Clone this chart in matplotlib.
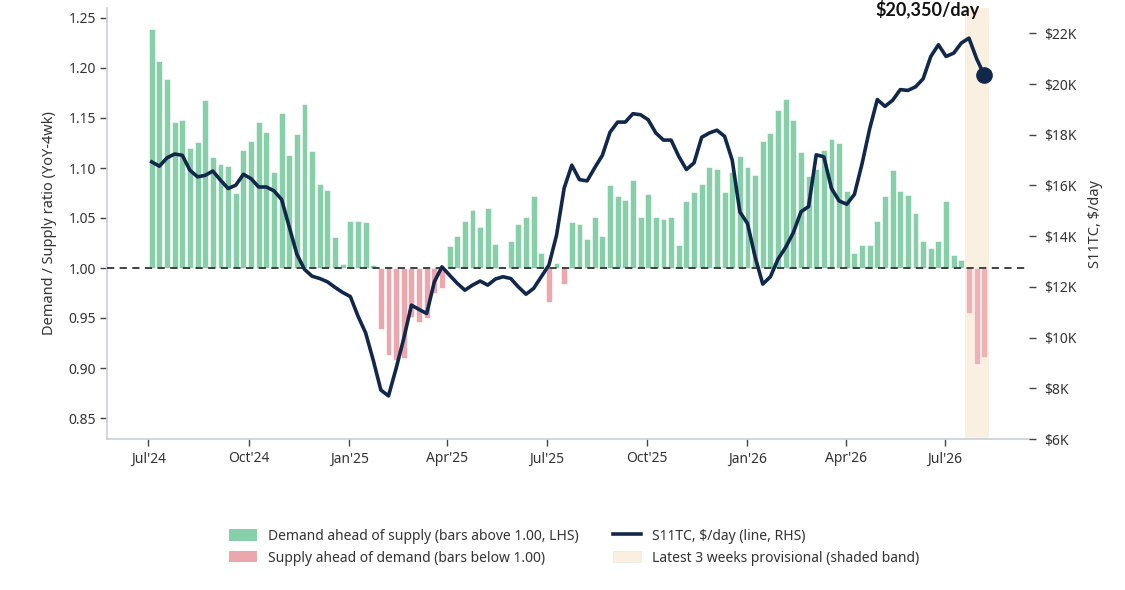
import matplotlib
matplotlib.use("Agg")
import matplotlib.pyplot as plt
import matplotlib.ticker as mticker
from matplotlib.patches import Patch
from matplotlib.lines import Line2D
import numpy as np
import pandas as pd

plt.rcParams['font.family'] = ['Noto Sans', 'DejaVu Sans']

# ---------------- data ----------------
start_date = "2024-07-04"
n_weeks = 110
ratio = [1.239, 1.207, 1.189, 1.146, 1.148, 1.120, 1.126, 1.168, 1.111, 1.104,
         1.102, 1.075, 1.118, 1.127, 1.146, 1.136, 1.096, 1.155, 1.113, 1.134,
         1.164, 1.117, 1.084, 1.078, 1.031, 1.004, 1.047, 1.047, 1.046, 1.003,
         0.939, 0.913, 0.908, 0.910, 0.951, 0.946, 0.950, 0.975, 0.980, 1.022,
         1.032, 1.047, 1.058, 1.041, 1.060, 1.024, 1.001, 1.027, 1.044, 1.051,
         1.072, 1.015, 0.966, 1.005, 0.984, 1.046, 1.044, 1.029, 1.051, 1.032,
         1.083, 1.072, 1.068, 1.088, 1.051, 1.074, 1.051, 1.049, 1.051, 1.023,
         1.067, 1.076, 1.084, 1.101, 1.099, 1.076, 1.096, 1.112, 1.101, 1.093,
         1.127, 1.135, 1.158, 1.169, 1.148, 1.116, 1.092, 1.099, 1.118, 1.129,
         1.125, 1.077, 1.015, 1.023, 1.023, 1.047, 1.072, 1.098, 1.077, 1.073,
         1.055, 1.027, 1.020, 1.027, 1.067, 1.013, 1.008, 0.955, 0.904, 0.911]
rate = [16930, 16760, 17090, 17240, 17190, 16600, 16340, 16400, 16570, 16210,
        15880, 16010, 16440, 16270, 15940, 15940, 15790, 15450, 14370, 13290,
        12690, 12420, 12330, 12200, 11980, 11780, 11620, 10850, 10190, 9110,
        7930, 7700, 8790, 9970, 11280, 11110, 10950, 12200, 12790, 12460,
        12140, 11870, 12070, 12230, 12070, 12310, 12400, 12330, 12000, 11710,
        11940, 12400, 12860, 14040, 15900, 16800, 16230, 16180, 16700, 17190,
        18100, 18500, 18500, 18830, 18790, 18590, 18070, 17790, 17790, 17150,
        16630, 16890, 17900, 18070, 18180, 17940, 17000, 14960, 14500, 13180,
        12110, 12400, 13100, 13560, 14140, 14960, 15170, 17210, 17130, 15880,
        15390, 15260, 15650, 16860, 18240, 19390, 19120, 19360, 19780, 19750,
        19890, 20210, 21090, 21550, 21090, 21220, 21620, 21810, 21000, 20350]
provisional_weeks = 3
tick_dates = ["2024-07-01", "2024-10-01", "2025-01-01", "2025-04-01", "2025-07-01",
              "2025-10-01", "2026-01-01", "2026-04-01", "2026-07-01"]
tick_labels = ["Jul'24", "Oct'24", "Jan'25", "Apr'25", "Jul'25",
               "Oct'25", "Jan'26", "Apr'26", "Jul'26"]
annot_text = "$20,350/day"

# ---------------- styling ----------------
GREEN = "#86CFA9"
PINK = "#ECA6AE"
NAVY = "#12284A"
BAND = "#FAF0E2"
SPINE = "#C9D1DD"
TXT = "#333333"

dates = pd.date_range(start_date, periods=n_weeks, freq="7D")
ratio = np.array(ratio)
rate = np.array(rate)

fig = plt.figure(figsize=(11.25, 5.9), dpi=100)
ax = fig.add_axes([107/1125, 1-439/590, (1029-107)/1125, (439-8)/590])
ax2 = ax.twinx()

# band for provisional weeks
band_start = dates[-provisional_weeks] - pd.Timedelta(days=3.5)
band_end = dates[-1] + pd.Timedelta(days=4)
ax.axvspan(band_start, band_end, color=BAND, zorder=0, lw=0)

heights = ratio - 1.0
colors = [GREEN if h >= 0 else PINK for h in heights]
alphas = [0.85 if i >= n_weeks - provisional_weeks else 1.0 for i in range(n_weeks)]
for d, h, c, a in zip(dates, heights, colors, alphas):
    ax.bar(d, h, bottom=1.0, width=5.4, color=c, alpha=a,
           edgecolor="white", linewidth=0.4, zorder=2)

ax.axhline(1.0, color="#333333", lw=1.3, ls=(0, (4, 3)), zorder=3)

ax2.plot(dates, rate, color=NAVY, lw=2.6, zorder=5, solid_joinstyle="round")
ax2.plot(dates[-1:], rate[-1:], "o", color=NAVY, ms=11, zorder=6)

# axes limits
ax.set_xlim(dates[0] - pd.Timedelta(days=41), dates[-1] + pd.Timedelta(days=41))
ax.set_ylim(0.829, 1.26)
ax2.set_ylim(6000, 23000)

ax.set_yticks(np.arange(0.85, 1.2501, 0.05))
ax.yaxis.set_major_formatter(mticker.FormatStrFormatter("%.2f"))
ax2.set_yticks(np.arange(6000, 22001, 2000))
ax2.yaxis.set_major_formatter(mticker.FuncFormatter(lambda v, p: f"${int(v/1000)}K"))

ax.set_xticks(pd.to_datetime(tick_dates))
ax.set_xticklabels(tick_labels)

for a in (ax, ax2):
    a.spines["top"].set_visible(False)
    a.spines["right"].set_visible(False)
ax2.spines["left"].set_visible(False)
ax2.spines["bottom"].set_visible(False)
ax.spines["left"].set_color(SPINE)
ax.spines["bottom"].set_color(SPINE)
ax.spines["left"].set_linewidth(1.2)
ax.spines["bottom"].set_linewidth(1.2)

ax.tick_params(axis="y", length=5, width=1, color="#444444", labelsize=10, labelcolor=TXT, pad=3)
ax.tick_params(axis="x", length=5, width=1, color="#444444", labelsize=10, labelcolor=TXT, pad=4)
ax2.tick_params(axis="y", length=5, width=1, color="#444444", labelsize=10, labelcolor=TXT, pad=6)

ax.set_ylabel("Demand / Supply ratio (YoY-4wk)", fontsize=10.5, color=TXT, labelpad=8)
ax2.set_ylabel("S11TC, $/day", fontsize=10.5, color=TXT, labelpad=8)

ax.set_zorder(1)
ax2.set_zorder(2)
ax.patch.set_visible(False)

# annotation near the top edge, right of centre (kept fully visible)
fig.text(928/1125, 1-16/590, annot_text, ha="center", va="baseline",
         fontsize=13, fontweight="bold", color="#111111",
         family=["Lato", "DejaVu Sans"])

handles = [
    Patch(facecolor=GREEN, edgecolor="none"),
    Patch(facecolor=PINK, edgecolor="none"),
    Line2D([0], [0], color=NAVY, lw=2.6),
    Patch(facecolor=BAND, edgecolor="#EEE6DA", linewidth=0.5),
]
labels = ["Demand ahead of supply (bars above 1.00, LHS)",
          "Supply ahead of demand (bars below 1.00)",
          "S11TC, $/day (line, RHS)",
          "Latest 3 weeks provisional (shaded band)"]
fig.legend(handles, labels,
           loc="upper center", bbox_to_anchor=(574/1125, 1-523/590), ncol=2,
           frameon=False, fontsize=10, handlelength=2.0, handleheight=0.9,
           columnspacing=2.5, labelcolor=TXT, borderaxespad=0, handletextpad=0.8)

fig.savefig("out.png", dpi=100)
